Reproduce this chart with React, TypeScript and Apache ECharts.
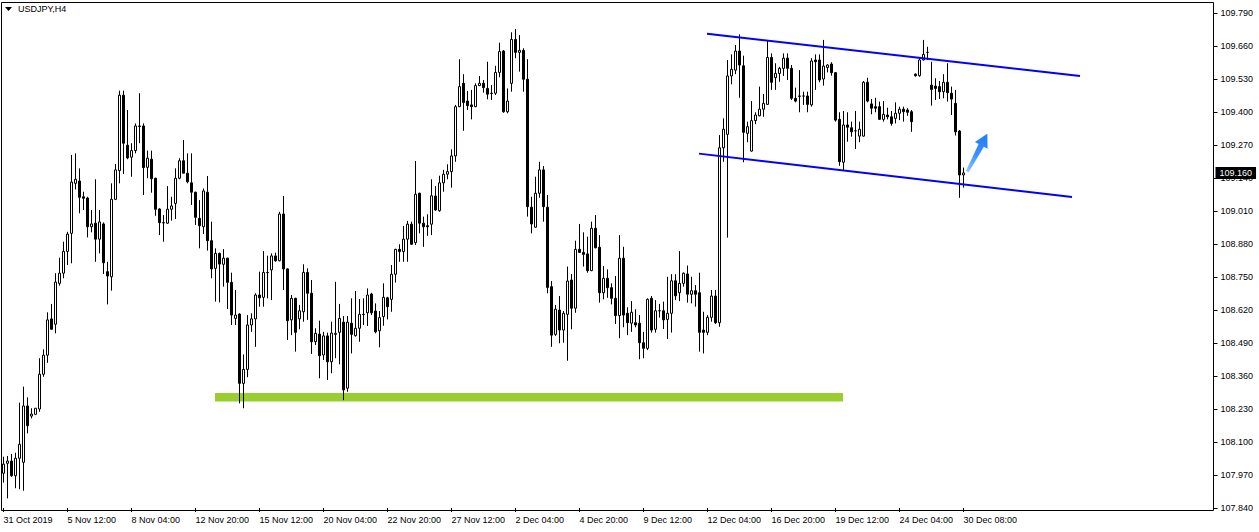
import { useEffect, useRef } from "react";
import * as echarts from "echarts";

// USDJPY H4 bars, 31 Oct 2019 20:00 onwards
const opens = [
  107.977, 108.016, 108.025, 107.967, 108.036, 108.020, 108.242, 108.202, 108.209, 108.230,
  108.367, 108.442, 108.585, 108.564, 108.725, 108.765, 108.851, 108.922, 109.119, 109.128,
  109.066, 109.061, 108.948, 108.962, 108.899, 108.959, 108.771, 108.751, 109.056, 109.169,
  109.466, 109.269, 109.222, 109.248, 109.345, 109.345, 109.182, 109.214, 109.139, 109.018,
  108.964, 108.962, 109.017, 109.040, 109.139, 109.208, 109.159, 109.121, 109.084, 108.981,
  108.948, 109.084, 108.893, 108.784, 108.843, 108.800, 108.824, 108.729, 108.587, 108.604,
  108.331, 108.386, 108.561, 108.585, 108.679, 108.670, 108.768, 108.778, 108.833, 108.814,
  108.998, 108.782, 108.581, 108.666, 108.585, 108.613, 108.768, 108.686, 108.495, 108.525,
  108.443, 108.518, 108.416, 108.524, 108.532, 108.572, 108.312, 108.568, 108.519, 108.548,
  108.603, 108.609, 108.683, 108.616, 108.538, 108.594, 108.668, 108.662, 108.761, 108.859,
  108.850, 108.899, 108.958, 108.885, 109.080, 108.962, 108.952, 108.958, 109.069, 109.011,
  109.121, 109.155, 109.165, 109.227, 109.421, 109.513, 109.443, 109.428, 109.421, 109.504,
  109.513, 109.493, 109.474, 109.474, 109.556, 109.640, 109.401, 109.513, 109.686, 109.635,
  109.643, 109.529, 109.025, 108.946, 109.080, 109.172, 109.025, 108.712, 108.524, 108.620,
  108.541, 108.603, 108.738, 108.627, 108.859, 108.847, 108.841, 108.775, 108.942, 108.867,
  108.688, 108.745, 108.708, 108.666, 108.598, 108.824, 108.607, 108.568, 108.570, 108.568,
  108.491, 108.469, 108.666, 108.544, 108.617, 108.617, 108.583, 108.607, 108.735, 108.688,
  108.725, 108.762, 108.682, 108.696, 108.688, 108.541, 108.532, 108.591, 108.675, 108.570,
  109.259, 109.312, 109.542, 109.565, 109.640, 109.582, 109.316, 109.246, 109.366, 109.385,
  109.411, 109.430, 109.615, 109.535, 109.552, 109.572, 109.612, 109.572, 109.454, 109.463,
  109.463, 109.463, 109.428, 109.605, 109.605, 109.530, 109.575, 109.589, 109.555, 109.371,
  109.202, 109.349, 109.338, 109.326, 109.305, 109.305, 109.517, 109.432, 109.421, 109.421,
  109.371, 109.388, 109.381, 109.375, 109.395, 109.411, 109.408, 109.401, 109.549, 109.543,
  109.605, 109.635, 109.506, 109.502, 109.500, 109.480, 109.517, 109.474, 109.434, 109.325,
  109.152,
];

const highs = [
  108.042, 108.045, 108.053, 108.058, 108.255, 108.318, 108.276, 108.233, 108.233, 108.430,
  108.465, 108.611, 108.644, 108.765, 108.826, 108.889, 108.928, 109.231, 109.237, 109.178,
  109.086, 109.066, 109.014, 109.135, 109.014, 108.965, 108.810, 109.119, 109.195, 109.484,
  109.484, 109.408, 109.277, 109.355, 109.474, 109.355, 109.248, 109.248, 109.141, 109.021,
  108.994, 109.108, 109.066, 109.178, 109.218, 109.290, 109.237, 109.237, 109.086, 109.053,
  109.099, 109.148, 108.968, 108.863, 108.846, 108.860, 108.826, 108.767, 108.699, 108.607,
  108.445, 108.600, 108.607, 108.686, 108.771, 108.852, 108.834, 108.843, 108.846, 109.007,
  109.069, 108.784, 108.679, 108.668, 108.640, 108.800, 108.784, 108.738, 108.548, 108.578,
  108.534, 108.531, 108.574, 108.731, 108.644, 108.596, 108.596, 108.666, 108.695, 108.663,
  108.666, 108.705, 108.688, 108.646, 108.616, 108.725, 108.672, 108.797, 108.861, 108.879,
  108.951, 108.971, 108.968, 109.207, 109.082, 108.988, 108.997, 109.135, 109.108, 109.149,
  109.172, 109.194, 109.253, 109.428, 109.608, 109.549, 109.483, 109.487, 109.513, 109.542,
  109.526, 109.598, 109.506, 109.582, 109.673, 109.644, 109.493, 109.714, 109.727, 109.703,
  109.651, 109.608, 109.066, 109.145, 109.204, 109.187, 109.073, 108.734, 108.640, 108.675,
  108.616, 108.791, 108.762, 108.893, 108.959, 108.926, 108.909, 108.968, 108.994, 108.915,
  108.793, 108.780, 108.725, 108.754, 108.915, 108.869, 108.631, 108.655, 108.623, 108.600,
  108.534, 108.666, 108.675, 108.659, 108.644, 108.653, 108.751, 108.761, 108.761, 108.852,
  108.768, 108.795, 108.751, 108.718, 108.767, 108.613, 108.600, 108.699, 108.699, 109.309,
  109.375, 109.605, 109.627, 109.664, 109.706, 109.622, 109.362, 109.443, 109.399, 109.500,
  109.471, 109.680, 109.631, 109.592, 109.578, 109.631, 109.631, 109.585, 109.496, 109.565,
  109.480, 109.480, 109.612, 109.627, 109.627, 109.684, 109.588, 109.596, 109.557, 109.399,
  109.404, 109.399, 109.362, 109.404, 109.362, 109.522, 109.535, 109.451, 109.456, 109.441,
  109.443, 109.417, 109.404, 109.438, 109.421, 109.421, 109.415, 109.408, 109.552, 109.612,
  109.684, 109.657, 109.598, 109.533, 109.522, 109.549, 109.592, 109.500, 109.487, 109.329,
  109.181,
];

const lows = [
  107.940, 107.878, 107.963, 107.918, 107.914, 107.908, 108.134, 108.193, 108.206, 108.219,
  108.357, 108.412, 108.544, 108.528, 108.716, 108.745, 108.797, 108.804, 109.095, 109.001,
  109.014, 108.906, 108.926, 108.810, 108.843, 108.762, 108.642, 108.696, 109.053, 109.119,
  109.156, 109.214, 109.145, 109.237, 109.277, 109.073, 109.139, 109.082, 108.991, 108.915,
  108.889, 108.959, 108.972, 108.978, 109.135, 109.159, 109.119, 109.034, 108.955, 108.863,
  108.919, 108.854, 108.745, 108.653, 108.650, 108.712, 108.624, 108.561, 108.561, 108.252,
  108.233, 108.355, 108.534, 108.475, 108.633, 108.633, 108.666, 108.659, 108.810, 108.812,
  108.699, 108.502, 108.521, 108.456, 108.544, 108.574, 108.581, 108.447, 108.482, 108.351,
  108.423, 108.344, 108.371, 108.430, 108.406, 108.265, 108.298, 108.449, 108.515, 108.495,
  108.561, 108.557, 108.600, 108.528, 108.473, 108.558, 108.583, 108.613, 108.728, 108.810,
  108.810, 108.810, 108.877, 108.876, 108.922, 108.869, 108.912, 108.915, 109.011, 109.007,
  109.086, 109.135, 109.102, 109.204, 109.419, 109.326, 109.408, 109.371, 109.419, 109.502,
  109.476, 109.450, 109.447, 109.467, 109.537, 109.397, 109.395, 109.480, 109.612, 109.559,
  109.480, 108.988, 108.922, 108.944, 109.062, 108.968, 108.686, 108.475, 108.518, 108.489,
  108.491, 108.420, 108.544, 108.609, 108.845, 108.791, 108.767, 108.773, 108.863, 108.649,
  108.662, 108.668, 108.642, 108.565, 108.509, 108.552, 108.521, 108.534, 108.552, 108.426,
  108.430, 108.462, 108.531, 108.531, 108.590, 108.545, 108.506, 108.531, 108.659, 108.655,
  108.712, 108.649, 108.646, 108.633, 108.456, 108.449, 108.521, 108.574, 108.565, 108.554,
  109.204, 108.905, 109.509, 109.549, 109.456, 109.202, 109.281, 109.244, 109.352, 109.383,
  109.381, 109.428, 109.487, 109.487, 109.519, 109.542, 109.526, 109.447, 109.438, 109.399,
  109.428, 109.399, 109.421, 109.487, 109.517, 109.504, 109.556, 109.543, 109.362, 109.188,
  109.172, 109.283, 109.303, 109.254, 109.281, 109.303, 109.438, 109.391, 109.399, 109.369,
  109.362, 109.371, 109.346, 109.355, 109.368, 109.362, 109.385, 109.322, 109.539, 109.539,
  109.603, 109.605, 109.425, 109.447, 109.451, 109.454, 109.441, 109.388, 109.307, 109.062,
  109.102,
];

const closes = [
  108.013, 108.025, 107.967, 108.036, 108.091, 108.242, 108.164, 108.210, 108.233, 108.367,
  108.442, 108.581, 108.544, 108.730, 108.765, 108.851, 108.919, 109.124, 109.135, 109.064,
  109.060, 108.948, 108.959, 108.899, 108.967, 108.806, 108.754, 109.056, 109.172, 109.466,
  109.277, 109.219, 109.248, 109.345, 109.343, 109.181, 109.218, 109.137, 109.017, 108.964,
  108.963, 109.017, 109.030, 109.139, 109.208, 109.159, 109.125, 109.084, 108.985, 108.952,
  109.089, 108.893, 108.782, 108.843, 108.801, 108.824, 108.729, 108.600, 108.600, 108.331,
  108.386, 108.561, 108.585, 108.679, 108.668, 108.768, 108.767, 108.833, 108.814, 108.998,
  108.782, 108.578, 108.666, 108.532, 108.617, 108.768, 108.686, 108.495, 108.528, 108.440,
  108.518, 108.416, 108.529, 108.528, 108.587, 108.305, 108.572, 108.524, 108.548, 108.603,
  108.602, 108.679, 108.609, 108.534, 108.590, 108.670, 108.633, 108.761, 108.859, 108.850,
  108.899, 108.958, 108.879, 109.076, 108.962, 108.948, 108.948, 109.070, 109.014, 109.121,
  109.155, 109.165, 109.227, 109.421, 109.500, 109.437, 109.425, 109.421, 109.504, 109.513,
  109.496, 109.470, 109.473, 109.556, 109.638, 109.401, 109.443, 109.686, 109.635, 109.643,
  109.529, 109.027, 108.959, 109.080, 109.172, 109.027, 108.709, 108.521, 108.623, 108.541,
  108.607, 108.734, 108.627, 108.859, 108.847, 108.839, 108.775, 108.942, 108.865, 108.688,
  108.745, 108.708, 108.666, 108.598, 108.824, 108.600, 108.570, 108.611, 108.561, 108.491,
  108.469, 108.662, 108.541, 108.617, 108.617, 108.581, 108.607, 108.735, 108.676, 108.725,
  108.765, 108.682, 108.696, 108.682, 108.532, 108.532, 108.591, 108.675, 108.570, 109.259,
  109.332, 109.542, 109.568, 109.640, 109.585, 109.320, 109.342, 109.366, 109.388, 109.411,
  109.434, 109.615, 109.517, 109.552, 109.572, 109.612, 109.572, 109.454, 109.443, 109.462,
  109.463, 109.430, 109.601, 109.598, 109.526, 109.581, 109.585, 109.555, 109.368, 109.204,
  109.349, 109.340, 109.322, 109.326, 109.332, 109.517, 109.443, 109.415, 109.415, 109.371,
  109.391, 109.381, 109.355, 109.395, 109.411, 109.401, 109.399, 109.362, 109.543, 109.605,
  109.627, 109.635, 109.489, 109.493, 109.480, 109.517, 109.476, 109.451, 109.322, 109.152,
  109.160,
];

// Time axis: one label every 16 bars
const xTickLabels = [
  "31 Oct 2019", "5 Nov 12:00", "8 Nov 04:00", "12 Nov 20:00", "15 Nov 12:00",
  "20 Nov 04:00", "22 Nov 20:00", "27 Nov 12:00", "2 Dec 04:00", "4 Dec 20:00",
  "9 Dec 12:00", "12 Dec 04:00", "16 Dec 20:00", "19 Dec 12:00", "24 Dec 04:00",
  "30 Dec 08:00",
];
const BARS_PER_LABEL = 16;
const SLOT_COUNT = 303; // bar slots across the window, incl. empty space on the right

// Price scale, one step of 0.130
const priceTicks = [
  "107.840", "107.970", "108.100", "108.230", "108.360", "108.490", "108.620", "108.750",
  "108.880", "109.010", "109.140", "109.270", "109.400", "109.530", "109.660", "109.790",
];
const PRICE_MIN = 107.84;
const PRICE_MAX = 109.79;

const lastPrice = 109.16;

// Drawn objects, x in bar units, y in price
const channelUpper = [[175.875, 109.708], [269.125, 109.542]];
const channelLower = [[173.875, 109.236], [267.125, 109.065]];
const supportZone = [[52.875, 209.875, 108.2595, 108.293]]; // from bar, to bar, low, high
const reboundArrow = [[240.95, 109.165, 245.95, 109.314]]; // tail bar, tail price, tip bar, tip price

const FONT = "Liberation Sans";

export default function App() {
  const ref = useRef<HTMLDivElement>(null);

  useEffect(() => {
    if (!ref.current) return;
    const chart = echarts.init(ref.current, null, { renderer: "svg" });

    const categories = Array.from({ length: SLOT_COUNT }, (_, i) => String(i));
    const showTick = (index: number) =>
      index % BARS_PER_LABEL === 0 && index / BARS_PER_LABEL < xTickLabels.length;
    const candles = opens.map((o, i) => [o, closes[i], lows[i], highs[i]]);

    chart.setOption({
      animation: false,
      backgroundColor: "#ffffff",
      grid: { left: 1.5, top: 13, width: 1212, height: 495, containLabel: false },
      xAxis: [
        {
          type: "category",
          data: categories,
          boundaryGap: true,
          offset: 3,
          axisLine: { show: false },
          axisTick: {
            show: true,
            alignWithLabel: true,
            interval: showTick,
            length: 4,
            lineStyle: { color: "#000" },
          },
          axisLabel: {
            interval: showTick,
            formatter: (_v: string, index: number) =>
              index % BARS_PER_LABEL === 0 ? xTickLabels[index / BARS_PER_LABEL] ?? "" : "",
            align: "left",
            margin: 4,
            color: "#000",
            fontFamily: FONT,
            fontSize: 9,
          },
          splitLine: { show: false },
        },
        {
          type: "value",
          min: -0.5,
          max: SLOT_COUNT - 0.5,
          show: false,
        },
      ],
      yAxis: [
        {
          type: "value",
          min: PRICE_MIN,
          max: PRICE_MAX,
          show: false,
          splitLine: { show: false },
        },
        {
          type: "value",
          min: 0,
          max: priceTicks.length - 1,
          interval: 1,
          position: "right",
          axisLine: { show: false },
          axisTick: { show: true, length: 4, lineStyle: { color: "#000" } },
          axisLabel: {
            formatter: (v: number) => priceTicks[Math.round(v)] ?? "",
            margin: 7,
            color: "#000",
            fontFamily: FONT,
            fontSize: 9,
          },
          splitLine: { show: false },
        },
      ],
      series: [
        {
          type: "custom",
          name: "support",
          xAxisIndex: 1,
          yAxisIndex: 0,
          z: 1,
          silent: true,
          data: supportZone,
          renderItem: (_p: any, api: any) => {
            const a = api.coord([api.value(0), api.value(3)]);
            const b = api.coord([api.value(1), api.value(2)]);
            return {
              type: "rect",
              shape: { x: a[0], y: a[1], width: b[0] - a[0], height: b[1] - a[1] },
              style: { fill: "#9acd32" },
            };
          },
        },
        {
          type: "candlestick",
          name: "USDJPY,H4",
          xAxisIndex: 0,
          yAxisIndex: 0,
          z: 2,
          barWidth: 2,
          data: candles,
          itemStyle: {
            color: "#ffffff",
            color0: "#000000",
            borderColor: "#000000",
            borderColor0: "#000000",
            borderColorDoji: "#000000",
            borderWidth: 1,
          },
          markLine: {
            silent: true,
            symbol: ["none", "none"],
            data: [{ yAxis: lastPrice }],
            lineStyle: { color: "rgba(0,0,0,0)", width: 0 },
            label: {
              show: true,
              position: "end",
              distance: 2,
              formatter: lastPrice.toFixed(3),
              color: "#ffffff",
              opacity: 1,
              backgroundColor: "#000000",
              padding: [2, 4, 1, 4],
              fontFamily: FONT,
              fontSize: 9,
            },
          },
        },
        {
          type: "line",
          name: "channel top",
          xAxisIndex: 1,
          yAxisIndex: 0,
          z: 4,
          silent: true,
          symbol: "none",
          data: channelUpper,
          lineStyle: { color: "#0000ff", width: 2 },
        },
        {
          type: "line",
          name: "channel bottom",
          xAxisIndex: 1,
          yAxisIndex: 0,
          z: 4,
          silent: true,
          symbol: "none",
          data: channelLower,
          lineStyle: { color: "#0000ff", width: 2 },
        },
        {
          type: "custom",
          name: "arrow",
          xAxisIndex: 1,
          yAxisIndex: 0,
          z: 5,
          silent: true,
          data: reboundArrow,
          renderItem: (_p: any, api: any) => {
            const a = api.coord([api.value(0), api.value(1)]);
            const b = api.coord([api.value(2), api.value(3)]);
            const dx = b[0] - a[0];
            const dy = b[1] - a[1];
            const len = Math.hypot(dx, dy);
            const ux = dx / len;
            const uy = dy / len;
            const nx = -uy;
            const ny = ux;
            const headLen = 13;
            const headHalf = 7.2;
            const tailHalf = 1.5;
            const neckHalf = 3;
            const bx = b[0] - ux * headLen;
            const by = b[1] - uy * headLen;
            const pts = [
              [a[0] + nx * tailHalf, a[1] + ny * tailHalf],
              [bx + nx * neckHalf, by + ny * neckHalf],
              [bx + nx * headHalf, by + ny * headHalf],
              [b[0], b[1]],
              [bx - nx * headHalf, by - ny * headHalf],
              [bx - nx * neckHalf, by - ny * neckHalf],
              [a[0] - nx * tailHalf, a[1] - ny * tailHalf],
            ];
            return {
              type: "polygon",
              shape: { points: pts },
              style: {
                fill: new echarts.graphic.LinearGradient(
                  a[0], a[1], b[0], b[1],
                  [
                    { offset: 0, color: "#8cc6ff" },
                    { offset: 0.45, color: "#3a92ff" },
                    { offset: 1, color: "#1f7bf2" },
                  ],
                  true
                ),
              },
            };
          },
        },
      ],
      graphic: [
        {
          type: "rect",
          silent: true,
          z: 10,
          shape: { x: 1.5, y: 2.5, width: 1212, height: 508 },
          style: { fill: "none", stroke: "#000", lineWidth: 1 },
        },
        {
          type: "polygon",
          silent: true,
          z: 10,
          shape: { points: [[5, 7], [12, 7], [8.5, 11]] },
          style: { fill: "#000" },
        },
        {
          type: "text",
          silent: true,
          z: 10,
          left: 18,
          top: 4,
          style: { text: "USDJPY,H4", fill: "#000", fontFamily: FONT, fontSize: 9 },
        },
      ],
    });

    return () => chart.dispose();
  }, []);

  return (
    <div
      ref={ref}
      style={{ position: "fixed", left: 0, top: 0, width: 1259, height: 532, background: "#fff" }}
    />
  );
}
